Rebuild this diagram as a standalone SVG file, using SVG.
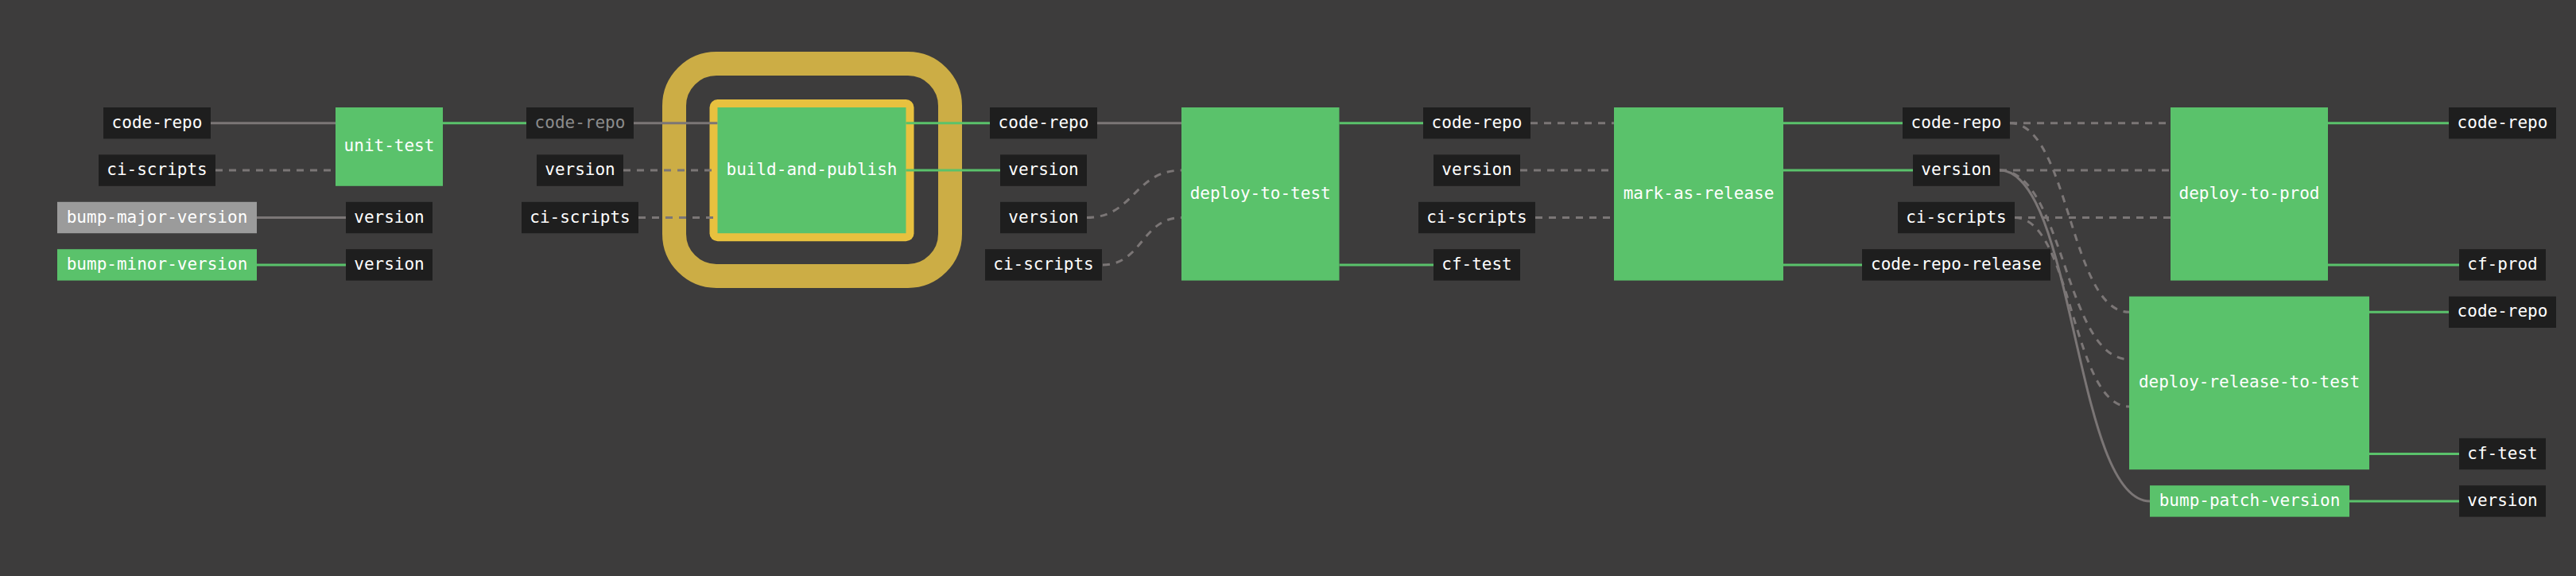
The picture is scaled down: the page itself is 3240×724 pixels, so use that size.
<svg xmlns="http://www.w3.org/2000/svg" width="3240" height="724" viewBox="0 0 3240 724">
<style>
.bg{fill:#3d3c3c}
.res{fill:#1e1e1e}
.job{fill:#5ac26b}
.pend{fill:#9b9b9b}
text{font-family:"DejaVu Sans Mono","Liberation Mono",monospace;font-size:21px;fill:#ffffff;text-anchor:middle}
text.dim{fill:#8c8c8c}
.e{fill:none;stroke-width:3}
.g{stroke:#7b7676}
.gr{stroke:#5ac26b}
.d{stroke-dasharray:9 8}
</style>
<rect class="bg" x="0" y="0" width="3240" height="724"/>
<g id="highlight">
<rect x="848" y="80" width="347" height="267" rx="53" fill="none" stroke="#ccad45" stroke-width="30"/>
<rect x="892.5" y="125" width="257" height="178.2" rx="10" fill="#e8c13f"/>
</g>
<g id="connectors">
<path class="e g" d="M265 154.7H422"/>
<path class="e g" d="M323 273.5H435"/>
<path class="e g" d="M797 154.7H902.5"/>
<path class="e g" d="M1380 154.7H1486"/>
<path class="e g" d="M2515 214.1C2609.5 214.1 2609.5 629.9 2704 629.9"/>
<path class="e g d" d="M271 214.1H422"/>
<path class="e g d" d="M784 214.1H902.5"/>
<path class="e g d" d="M803 273.5H902.5"/>
<path class="e g d" d="M1367 273.5C1426.5 273.5 1426.5 214.1 1486 214.1"/>
<path class="e g d" d="M1387 332.9C1436.5 332.9 1436.5 273.5 1486 273.5"/>
<path class="e g d" d="M1925 154.7H2030"/>
<path class="e g d" d="M1912 214.1H2030"/>
<path class="e g d" d="M1931 273.5H2030"/>
<path class="e g d" d="M2528 154.7H2730"/>
<path class="e g d" d="M2515 214.1H2730"/>
<path class="e g d" d="M2534 273.5H2730"/>
<path class="e g d" d="M2528 154.7C2603 154.7 2603 392.3 2678 392.3"/>
<path class="e g d" d="M2515 214.1C2596.5 214.1 2596.5 451.7 2678 451.7"/>
<path class="e g d" d="M2534 273.5C2606 273.5 2606 511.1 2678 511.1"/>
<path class="e gr" d="M323 332.9H435"/>
<path class="e gr" d="M557 154.7H662"/>
<path class="e gr" d="M1139.5 154.7H1245"/>
<path class="e gr" d="M1139.5 214.1H1258"/>
<path class="e gr" d="M1684.5 154.7H1790"/>
<path class="e gr" d="M1684.5 332.9H1803"/>
<path class="e gr" d="M2243 154.7H2393"/>
<path class="e gr" d="M2243 214.1H2406"/>
<path class="e gr" d="M2243 332.9H2342"/>
<path class="e gr" d="M2928 154.7H3080"/>
<path class="e gr" d="M2928 332.9H3093"/>
<path class="e gr" d="M2980 392.3H3080"/>
<path class="e gr" d="M2980 570.5H3093"/>
<path class="e gr" d="M2955 629.9H3093"/>
</g>
<g id="r-code-repo-1"><rect class="res" x="130" y="135" width="135" height="39.4"/><text x="197.5" y="160.7">code-repo</text></g>
<g id="r-ci-scripts-1"><rect class="res" x="124" y="194.4" width="147" height="39.4"/><text x="197.5" y="220.1">ci-scripts</text></g>
<g id="j-bump-major-version"><rect class="pend" x="72" y="253.8" width="251" height="39.4"/><text x="197.5" y="279.5">bump-major-version</text></g>
<g id="j-bump-minor-version"><rect class="job" x="72" y="313.2" width="251" height="39.4"/><text x="197.5" y="338.9">bump-minor-version</text></g>
<g id="j-unit-test"><rect class="job" x="422" y="135" width="135" height="98.8"/><text x="489.5" y="190.2">unit-test</text></g>
<g id="r-version-1"><rect class="res" x="435" y="253.8" width="109" height="39.4"/><text x="489.5" y="279.5">version</text></g>
<g id="r-version-2"><rect class="res" x="435" y="313.2" width="109" height="39.4"/><text x="489.5" y="338.9">version</text></g>
<g id="r-code-repo-2"><rect class="res" x="662" y="135" width="135" height="39.4"/><text class="dim" x="729.5" y="160.7">code-repo</text></g>
<g id="r-version-3"><rect class="res" x="675" y="194.4" width="109" height="39.4"/><text x="729.5" y="220.1">version</text></g>
<g id="r-ci-scripts-2"><rect class="res" x="656" y="253.8" width="147" height="39.4"/><text x="729.5" y="279.5">ci-scripts</text></g>
<g id="j-build-and-publish"><rect class="job" x="902.5" y="135" width="237" height="158.2"/><text x="1021" y="220">build-and-publish</text></g>
<g id="r-code-repo-3"><rect class="res" x="1245" y="135" width="135" height="39.4"/><text x="1312.5" y="160.7">code-repo</text></g>
<g id="r-version-4"><rect class="res" x="1258" y="194.4" width="109" height="39.4"/><text x="1312.5" y="220.1">version</text></g>
<g id="r-version-5"><rect class="res" x="1258" y="253.8" width="109" height="39.4"/><text x="1312.5" y="279.5">version</text></g>
<g id="r-ci-scripts-3"><rect class="res" x="1239" y="313.2" width="147" height="39.4"/><text x="1312.5" y="338.9">ci-scripts</text></g>
<g id="j-deploy-to-test"><rect class="job" x="1486" y="135" width="198.5" height="217.6"/><text x="1585.2" y="249.8">deploy-to-test</text></g>
<g id="r-code-repo-4"><rect class="res" x="1790" y="135" width="135" height="39.4"/><text x="1857.5" y="160.7">code-repo</text></g>
<g id="r-version-6"><rect class="res" x="1803" y="194.4" width="109" height="39.4"/><text x="1857.5" y="220.1">version</text></g>
<g id="r-ci-scripts-4"><rect class="res" x="1784" y="253.8" width="147" height="39.4"/><text x="1857.5" y="279.5">ci-scripts</text></g>
<g id="r-cf-test-1"><rect class="res" x="1803" y="313.2" width="109" height="39.4"/><text x="1857.5" y="338.9">cf-test</text></g>
<g id="j-mark-as-release"><rect class="job" x="2030" y="135" width="213" height="217.6"/><text x="2136.5" y="249.8">mark-as-release</text></g>
<g id="r-code-repo-5"><rect class="res" x="2393" y="135" width="135" height="39.4"/><text x="2460.5" y="160.7">code-repo</text></g>
<g id="r-version-7"><rect class="res" x="2406" y="194.4" width="109" height="39.4"/><text x="2460.5" y="220.1">version</text></g>
<g id="r-ci-scripts-5"><rect class="res" x="2387" y="253.8" width="147" height="39.4"/><text x="2460.5" y="279.5">ci-scripts</text></g>
<g id="r-code-repo-release"><rect class="res" x="2342" y="313.2" width="237" height="39.4"/><text x="2460.5" y="338.9">code-repo-release</text></g>
<g id="j-deploy-to-prod"><rect class="job" x="2730" y="135" width="198" height="217.6"/><text x="2829" y="249.8">deploy-to-prod</text></g>
<g id="r-code-repo-6"><rect class="res" x="3080" y="135" width="135" height="39.4"/><text x="3147.5" y="160.7">code-repo</text></g>
<g id="r-cf-prod"><rect class="res" x="3093" y="313.2" width="109" height="39.4"/><text x="3147.5" y="338.9">cf-prod</text></g>
<g id="j-deploy-release-to-test"><rect class="job" x="2678" y="372.6" width="302" height="217.6"/><text x="2829" y="487.4">deploy-release-to-test</text></g>
<g id="r-code-repo-7"><rect class="res" x="3080" y="372.6" width="135" height="39.4"/><text x="3147.5" y="398.3">code-repo</text></g>
<g id="r-cf-test-2"><rect class="res" x="3093" y="550.8" width="109" height="39.4"/><text x="3147.5" y="576.5">cf-test</text></g>
<g id="j-bump-patch-version"><rect class="job" x="2704" y="610.2" width="251" height="39.4"/><text x="2829.5" y="635.9">bump-patch-version</text></g>
<g id="r-version-8"><rect class="res" x="3093" y="610.2" width="109" height="39.4"/><text x="3147.5" y="635.9">version</text></g>
</svg>
